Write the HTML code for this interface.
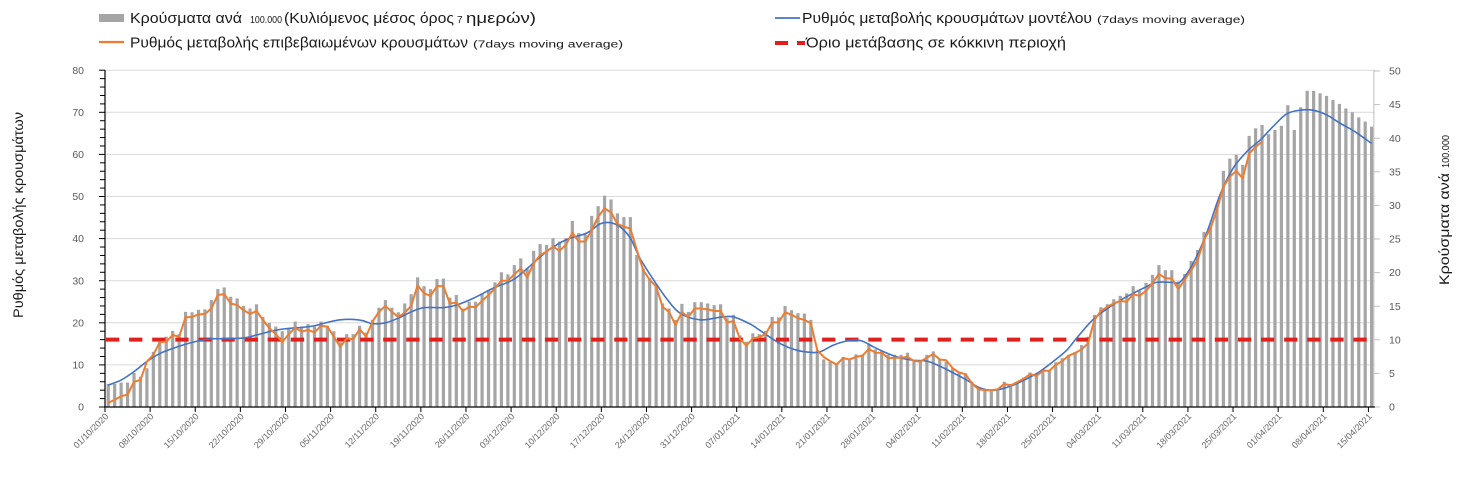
<!DOCTYPE html>
<html>
<head>
<meta charset="utf-8">
<style>
  html,body{margin:0;padding:0;background:#fff;}
  svg{display:block;font-family:"Liberation Sans","DejaVu Sans",sans-serif;}
</style>
</head>
<body>
<svg id="c" width="1463" height="486" viewBox="0 0 1463 486" xmlns="http://www.w3.org/2000/svg">
  <rect x="0" y="0" width="1463" height="486" fill="#ffffff"/>
  <g id="grid"></g>
  <g id="bars"></g>
  <g id="axes"></g>
  <g id="lines"></g>

  <!-- Legend -->
  <rect x="99" y="14" width="25" height="8" fill="#a5a5a5"/>
  <text x="130" y="23" font-size="15" fill="#1a1a1a" textLength="112" lengthAdjust="spacingAndGlyphs">Κρούσματα ανά</text>
  <text x="250" y="23" font-size="10" fill="#1a1a1a" textLength="32" lengthAdjust="spacingAndGlyphs">100.000</text>
  <text x="284" y="23" font-size="15" fill="#1a1a1a" textLength="170" lengthAdjust="spacingAndGlyphs">(Κυλιόμενος μέσος όρος</text>
  <text x="457" y="23" font-size="10" fill="#1a1a1a">7</text>
  <text x="466" y="23" font-size="15" fill="#1a1a1a" textLength="70" lengthAdjust="spacingAndGlyphs">ημερών)</text>

  <line x1="99" y1="42" x2="124" y2="42" stroke="#ed7d31" stroke-width="2.2"/>
  <text x="130" y="47.5" font-size="15" fill="#1a1a1a" textLength="338" lengthAdjust="spacingAndGlyphs">Ρυθμός μεταβολής επιβεβαιωμένων κρουσμάτων</text>
  <text x="473" y="47.5" font-size="10" fill="#1a1a1a" textLength="150" lengthAdjust="spacingAndGlyphs">(7days moving average)</text>

  <line x1="775" y1="18" x2="800" y2="18" stroke="#4472c4" stroke-width="1.8"/>
  <text x="802" y="23" font-size="15" fill="#1a1a1a" textLength="290" lengthAdjust="spacingAndGlyphs">Ρυθμός μεταβολής κρουσμάτων μοντέλου</text>
  <text x="1097" y="23" font-size="10" fill="#1a1a1a" textLength="148" lengthAdjust="spacingAndGlyphs">(7days moving average)</text>

  <line x1="775" y1="43" x2="788" y2="43" stroke="#e0201c" stroke-width="4"/>
  <line x1="797" y1="43" x2="805" y2="43" stroke="#e0201c" stroke-width="4"/>
  <text x="806" y="47.5" font-size="15" fill="#1a1a1a" textLength="260" lengthAdjust="spacingAndGlyphs">Όριο μετάβασης σε κόκκινη περιοχή</text>

  <!-- Axis titles -->
  <text transform="translate(23,215) rotate(-90)" text-anchor="middle" font-size="14" fill="#1a1a1a" textLength="206" lengthAdjust="spacingAndGlyphs">Ρυθμός μεταβολής κρουσμάτων</text>
  <text transform="translate(1449,285) rotate(-90)" font-size="14" fill="#1a1a1a" textLength="112" lengthAdjust="spacingAndGlyphs">Κρούσματα ανά</text>
  <text transform="translate(1449,168) rotate(-90)" font-size="10" fill="#1a1a1a" textLength="33" lengthAdjust="spacingAndGlyphs">100.000</text>
</svg>
<script>
(function(){
  var NS="http://www.w3.org/2000/svg";
  function el(parent,tag,attrs,text){
    var e=document.createElementNS(NS,tag);
    for(var k in attrs){e.setAttribute(k,attrs[k]);}
    if(text!==undefined){e.textContent=text;}
    document.getElementById(parent).appendChild(e);
    return e;
  }
  var X0=105, DW=6.446, Y0=407, S=4.21, XR=105+197*6.446;
  function cx(d){return X0+(d+0.5)*DW;}
  function yv(v){return Y0-v*S;}

  // grid lines + left labels
  for(var v=10; v<=80; v+=10){
    el("grid","line",{x1:X0,y1:yv(v),x2:XR,y2:yv(v),stroke:"#d9d9d9","stroke-width":1});
  }
  for(var v=0; v<=80; v+=10){
    el("axes","text",{x:84,y:yv(v)+3.6,"text-anchor":"end","font-size":10.5,fill:"#595959"},String(v));
  }
  // left axis minor/major ticks
  for(var v=0; v<=80; v+=2){
    var len=(v%10===0)?6:5;
    el("axes","line",{x1:X0-len,y1:yv(v),x2:X0,y2:yv(v),stroke:"#000","stroke-width":1});
  }
  el("axes","line",{x1:X0,y1:yv(80),x2:X0,y2:Y0,stroke:"#000","stroke-width":1.2});

  // right axis
  el("axes","line",{x1:XR-1,y1:yv(80),x2:XR-1,y2:Y0,stroke:"#bfbfbf","stroke-width":1});
  for(var r=0; r<=50; r+=5){
    var y=Y0-r*6.72;
    el("axes","line",{x1:XR-1,y1:y,x2:XR+5,y2:y,stroke:"#bfbfbf","stroke-width":1});
    el("axes","text",{x:1389,y:y+3.6,"font-size":10.5,fill:"#595959"},String(r));
  }

  // bars
  var bars=[5.5,5.5,5.8,5.8,8.1,7.2,9.2,13.1,15.5,16.7,
  18.1,17.3,22.6,22.5,23.1,23.2,25.4,28.0,28.4,26.2,
  25.8,24.0,23.4,24.4,21.4,20.0,19.1,18.0,18.8,20.3,
  19.1,19.7,19.1,20.3,19.3,18.0,15.4,17.3,17.3,19.3,
  17.7,20.7,23.6,25.4,23.6,22.5,24.6,26.8,30.8,28.7,
  28.0,30.4,30.5,26.0,26.6,23.4,25.0,25.0,27.0,27.8,
  29.6,32.0,31.5,33.7,35.3,32.9,37.1,38.7,38.5,40.1,
  39.3,40.1,44.2,41.3,41.0,45.4,47.7,50.2,49.3,46.0,
  45.1,45.1,36.1,32.9,30.6,29.0,24.6,23.4,20.7,24.5,
  22.6,24.9,24.9,24.6,24.2,24.4,21.1,21.9,17.0,15.5,
  17.5,17.3,18.1,21.4,21.3,24.0,23.0,22.3,22.2,20.7,
  13.5,11.3,10.8,10.3,11.9,11.3,12.5,12.4,15.1,13.7,
  13.4,12.4,12.4,12.4,12.9,11.1,11.1,12.4,13.2,11.3,
  10.8,9.2,8.4,8.0,6.0,4.2,4.0,4.2,4.4,6.0,
  5.5,6.0,7.0,8.2,8.0,9.0,8.7,10.6,11.6,12.4,
  13.1,14.7,16.7,21.9,23.7,24.4,25.6,26.4,27.0,28.7,
  27.6,29.5,31.4,33.7,32.5,32.5,29.8,31.6,34.7,37.3,
  41.6,42.8,48.0,56.1,59.0,59.9,57.5,64.4,66.2,67.0,
  64.8,65.8,66.8,71.7,65.8,71.2,75.1,75.1,74.5,73.9,
  72.9,72.0,70.9,70.0,68.8,67.8,66.6];
  for(var i=0;i<bars.length;i++){
    var h=bars[i]*S;
    el("bars","rect",{x:(cx(i)-1.6).toFixed(2),y:(Y0-h).toFixed(2),width:3.2,height:h.toFixed(2),fill:"#a5a5a5"});
  }

  // x axis
  el("axes","line",{x1:X0-1,y1:Y0,x2:XR,y2:Y0,stroke:"#000","stroke-width":1.2});
  var labels=["01/10/2020","08/10/2020","15/10/2020","22/10/2020","29/10/2020","05/11/2020","12/11/2020","19/11/2020","26/11/2020","03/12/2020","10/12/2020","17/12/2020","24/12/2020","31/12/2020","07/01/2021","14/01/2021","21/01/2021","28/01/2021","04/02/2021","11/02/2021","18/02/2021","25/02/2021","04/03/2021","11/03/2021","18/03/2021","25/03/2021","01/04/2021","08/04/2021","15/04/2021"];
  for(var k=0;k<labels.length;k++){
    var tx=X0+k*7*DW;
    el("axes","line",{x1:tx,y1:Y0,x2:tx,y2:Y0+5,stroke:"#000","stroke-width":1});
    var ax=tx+4, ay=417;
    el("axes","text",{x:ax,y:ay,"text-anchor":"end","font-size":9,fill:"#666",transform:"rotate(-45 "+ax+" "+ay+")"},labels[k]);
  }

  // red threshold
  el("lines","line",{x1:106,y1:yv(16),x2:1367,y2:yv(16),stroke:"#e0201c","stroke-width":4,"stroke-dasharray":"13.3 9.8"});

  // blue smooth line
  var ba=[[0,5.2],[2,6.4],[4,8.4],[6,10.8],[8,12.7],[10,13.9],[12,14.9],[14,15.7],[16,16.2],[18,16.2],[21,16.4],[23,17.1],[25,17.9],[27,18.5],[30,18.9],[32,19.3],[34,20.1],[36,20.7],[38,20.8],[39.5,20.5],[41,19.8],[43,20.0],[45,21.1],[47,22.6],[49,23.6],[52,23.6],[54,24.2],[56.6,25.8],[59.7,28.2],[62.8,30.2],[65,32.9],[68,36.9],[71,39.7],[74.2,41.3],[76.3,43.5],[77.8,43.8],[79.4,42.8],[81,40.1],[82.5,35.3],[84.6,30.2],[86.6,25.8],[88.7,22.3],[91.8,20.7],[94.9,21.3],[97,21.4],[99.6,19.7],[101,18.3],[104.2,15.1],[106.8,13.5],[108.9,13.0],[110.4,13.1],[112.5,14.7],[114.6,15.7],[115.8,15.9],[117.1,15.6],[118.7,14.3],[120.8,12.8],[122.8,11.7],[124.9,11.1],[127,10.9],[129,9.7],[131.1,8.1],[133.2,6.4],[135,4.7],[136.8,4.0],[138.3,4.2],[140.4,5.2],[142.5,6.7],[144.5,8.4],[146.6,10.8],[148.7,13.5],[150.2,16.3],[152.8,20.8],[155.4,23.8],[158,26.2],[161.1,28.6],[162.6,29.6],[165.2,29.6],[166.3,29.7],[168.3,34.1],[170.4,41.3],[172.5,50.5],[174.5,56.7],[176.6,60.6],[178.7,63.4],[180.7,66.6],[182.8,69.6],[184.9,70.5],[186.9,70.5],[189,69.4],[191.1,67.4],[193.2,65.6],[196,62.6]];
  var P=ba.map(function(a){return [cx(a[0]),yv(a[1])];});
  var d="M"+P[0][0].toFixed(2)+","+P[0][1].toFixed(2);
  for(var i=0;i<P.length-1;i++){
    var p0=P[i>0?i-1:i],p1=P[i],p2=P[i+1],p3=P[i+2<P.length?i+2:i+1];
    var c1x=p1[0]+(p2[0]-p0[0])/6,c1y=p1[1]+(p2[1]-p0[1])/6;
    var c2x=p2[0]-(p3[0]-p1[0])/6,c2y=p2[1]-(p3[1]-p1[1])/6;
    d+=" C"+c1x.toFixed(2)+","+c1y.toFixed(2)+" "+c2x.toFixed(2)+","+c2y.toFixed(2)+" "+p2[0].toFixed(2)+","+p2[1].toFixed(2);
  }
  el("lines","path",{d:d,fill:"none",stroke:"#4472c4","stroke-width":1.6});

  // orange line
  var o=[1.0,1.7,2.6,2.9,6.0,6.4,10.8,12.4,15.4,15.5,
  17.1,16.7,21.3,21.4,22.0,22.1,23.4,26.6,26.8,24.6,
  24.2,23.0,22.1,22.8,20.7,18.7,17.3,15.4,17.3,18.8,
  17.9,18.3,17.7,19.3,19.1,16.7,14.3,16.3,16.1,18.5,
  16.7,20.3,22.6,24.0,22.6,21.4,22.4,24.0,28.9,27.0,
  26.4,28.7,28.7,24.6,24.8,22.8,23.8,23.7,25.2,26.6,
  28.2,30.0,30.0,31.5,32.9,30.8,34.1,36.1,36.9,38.1,
  37.1,38.5,41.4,39.3,39.3,42.0,45.2,47.2,46.2,43.5,
  42.8,42.4,37.3,32.5,30.2,28.6,23.8,22.6,19.5,22.5,
  21.4,23.4,23.4,23.2,22.8,22.8,20.1,20.4,16.2,14.6,
  16.3,16.6,17.3,20.1,20.1,22.5,21.9,21.1,20.7,19.9,
  13.5,11.9,10.9,10.1,11.6,11.3,11.9,12.2,13.8,12.9,
  12.9,11.6,11.7,11.7,11.9,10.9,10.8,11.7,12.6,11.3,
  11.1,9.2,8.2,7.8,5.6,4.2,4.0,4.0,4.2,5.5,
  5.1,5.9,6.7,7.8,7.4,8.6,8.6,10.0,10.9,12.2,
  12.8,13.7,15.1,20.7,22.8,23.8,24.6,25.2,25.0,26.8,
  26.4,27.6,29.4,31.6,30.6,30.5,28.0,30.2,32.5,34.9,
  39.7,42.4,46.8,52.3,54.7,56.1,54.3,60.2,61.8,63.0];
  var pts=[];
  for(var i=0;i<o.length;i++){pts.push(cx(i).toFixed(2)+","+yv(o[i]).toFixed(2));}
  el("lines","polyline",{points:pts.join(" "),fill:"none",stroke:"#ed7d31","stroke-width":2,"stroke-linejoin":"round"});
})();
</script>
</body>
</html>
